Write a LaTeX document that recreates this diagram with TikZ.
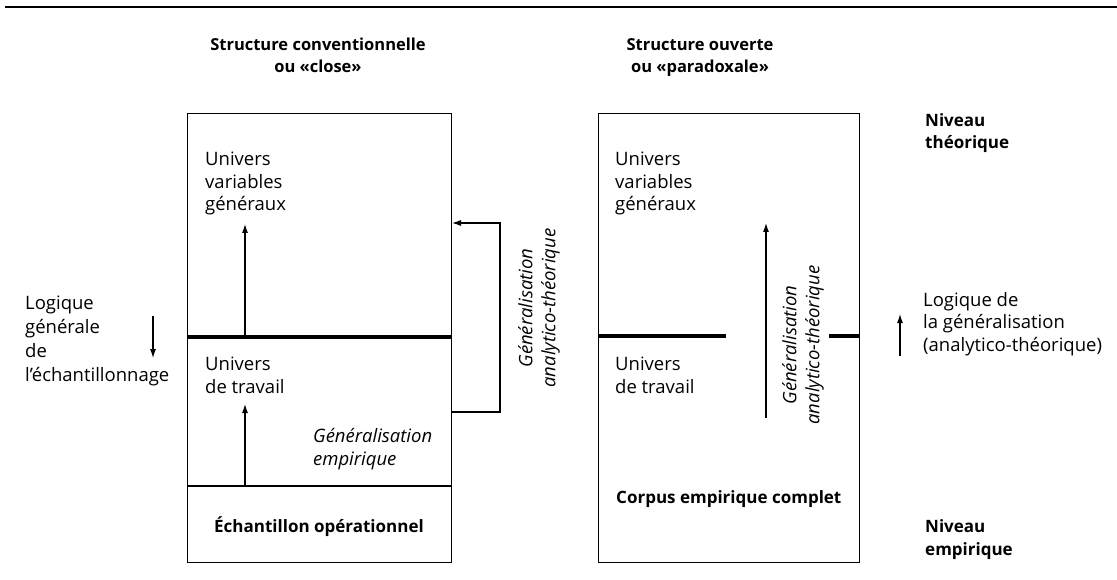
\documentclass[tikz,border=0pt]{standalone}
\usepackage{fontspec}
\setmainfont{Open Sans}
\usetikzlibrary{arrows.meta}
\begin{document}
\begin{tikzpicture}[x=1pt,y=-1pt,
  txt/.style={anchor=base west,inner sep=0pt,font=\fontsize{18.5}{22.5}\selectfont,align=left},
  btxt/.style={txt,font=\fontsize{17}{22.5}\selectfont\bfseries},
  ttl/.style={anchor=base,inner sep=0pt,font=\fontsize{16.5}{22}\selectfont\bfseries,align=center},
  itxt/.style={txt,font=\fontsize{18.5}{22.5}\selectfont\itshape},
  rtxt/.style={inner sep=0pt,rotate=90,align=center,font=\fontsize{18.5}{23}\selectfont\itshape},
  frame/.style={draw,line width=1.1pt},
  thick div/.style={line width=3.8pt},
  arr/.style={line width=1.1pt,-{Latex[length=9pt,width=6pt]}},
]
\useasboundingbox (0,0) rectangle (1117,580);
\draw[line width=2.6pt] (5,7) -- (1117,7);

% titles
\node[ttl] (t1) at (318,73) {Structure conventionnelle\\ou «close»};
\node[ttl] (t2) at (700,73) {Structure ouverte\\ou «paradoxale»};

% left box
\node[frame,minimum width=264pt,minimum height=449pt,inner sep=0pt,anchor=north west] (L) at (187,113) {};
\coordinate (Lm1) at (187,337); \coordinate (Lm2) at (451,337);
\draw[thick div] (Lm1) -- (Lm2);
\coordinate (Ld1) at (187,486); \coordinate (Ld2) at (451,486);
\draw[line width=1.1pt] (Ld1) -- (Ld2);
\coordinate (La1) at (245,337); \coordinate (La2) at (245,224);
\draw[arr] (La1) -- (La2);
\coordinate (Lb1) at (245,486); \coordinate (Lb2) at (245,404);
\draw[arr] (Lb1) -- (Lb2);
\coordinate (Fa) at (451,412); \coordinate (Fb) at (500,412); \coordinate (Fc) at (500,223); \coordinate (Fd) at (452,223);
\draw[line width=1.1pt,-{Latex[length=9pt,width=6pt]}] (Fa) -- (Fb) -- (Fc) -- (Fd);

\node[txt] (Luv) at (205,211) {Univers\\variables\\généraux};
\node[txt] (Lut) at (205,393) {Univers\\de travail};
\node[itxt] (Lge) at (313,465) {Généralisation\\empirique};
\node[btxt,anchor=base] (Leo) at (319,532) {Échantillon opérationnel};
\node[rtxt] (Lrot) at (539,308) {Généralisation\\analytico-théorique};

% left side label
\node[txt,font=\fontsize{18.5}{24}\selectfont] (LL) at (25,381) {Logique\\générale\\de\\l’échantillonnage};
\coordinate (LLa) at (153,316); \coordinate (LLb) at (153,358);
\draw[arr] (LLa) -- (LLb);

% right box
\node[frame,minimum width=261pt,minimum height=449pt,inner sep=0pt,anchor=north west] (R) at (598,113) {};
\coordinate (Rm1) at (598,336); \coordinate (Rm2) at (726,336);
\draw[thick div] (Rm1) -- (Rm2);
\coordinate (Rm3) at (829,336); \coordinate (Rm4) at (859,336);
\draw[thick div] (Rm3) -- (Rm4);
\coordinate (Ra1) at (766,418); \coordinate (Ra2) at (766,223);
\draw[arr] (Ra1) -- (Ra2);
\node[txt] (Ruv) at (615,211) {Univers\\variables\\généraux};
\node[txt] (Rut) at (615,393) {Univers\\de travail};
\node[btxt] (Rce) at (616,503) {Corpus empirique complet};
\node[rtxt] (Rrot) at (803,345) {Généralisation\\analytico-théorique};

% right labels
\node[btxt] (NT) at (925,149) {Niveau\\théorique};
\node[btxt] (NE) at (925,555) {Niveau\\empirique};
\node[txt] (LG) at (923,351) {Logique de\\la généralisation\\(analytico-théorique)};
\coordinate (LGa) at (900,356); \coordinate (LGb) at (900,314);
\draw[arr] (LGa) -- (LGb);
\end{tikzpicture}
\end{document}
